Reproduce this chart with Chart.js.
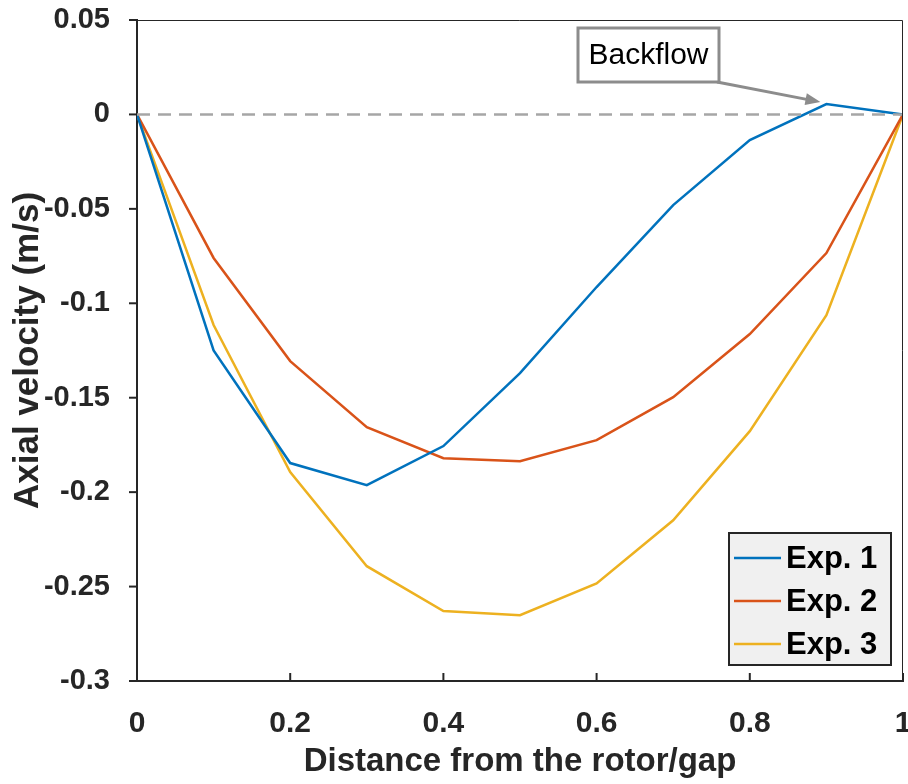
<!DOCTYPE html>
<html>
<head>
<meta charset="utf-8">
<script src="https://cdn.jsdelivr.net/npm/chart.js@4.4.1/dist/chart.umd.min.js"></script>
<style>
  html, body { margin: 0; padding: 0; background: #fff; }
  #wrap { width: 908px; height: 784px; }
</style>
</head>
<body>
<div id="wrap"><canvas id="myChart" width="908" height="784"></canvas></div>
<script>
// distance from the rotor / gap
let distance = [0, 0.1, 0.2, 0.3, 0.4, 0.5, 0.6, 0.7, 0.8, 0.9, 1];
let exp1 = [0, -0.125, -0.1846, -0.1963, -0.1756, -0.137, -0.0914, -0.048, -0.0136, 0.0055, 0];
let exp2 = [0, -0.076, -0.1306, -0.1656, -0.182, -0.1836, -0.1725, -0.1497, -0.1163, -0.0734, 0];
let exp3 = [0, -0.1115, -0.1894, -0.2392, -0.263, -0.2652, -0.2483, -0.2149, -0.1677, -0.1063, 0];
let seriesNames = ["Exp. 1", "Exp. 2", "Exp. 3"];
let xTicks = [0, 0.2, 0.4, 0.6, 0.8, 1];
let yTicks = [0.05, 0, -0.05, -0.1, -0.15, -0.2, -0.25, -0.3];
let colors = ["#0072BD", "#D95319", "#EDB120"];

function pts(ys) {
  return ys.map(function(y, i) { return { x: distance[i], y: y }; });
}

const font = "'Liberation Sans', Arial, sans-serif";

// box, ticks, legend and the backflow note
const extras = {
  id: "extras",
  afterDraw(chart) {
    const ctx = chart.ctx;
    const a = chart.chartArea;
    const xs = chart.scales.x, ys = chart.scales.y;
    ctx.save();
    // box top/right
    ctx.strokeStyle = "#262626";
    ctx.lineWidth = 1;
    ctx.beginPath();
    ctx.moveTo(a.left, a.top + 0.5);
    ctx.lineTo(a.right - 0.5, a.top + 0.5);
    ctx.lineTo(a.right - 0.5, a.bottom);
    ctx.stroke();
    // ticks
    ctx.lineWidth = 2;
    xTicks.forEach(function(v) {
      let px = xs.getPixelForValue(v);
      ctx.beginPath();
      ctx.moveTo(px, a.bottom);
      ctx.lineTo(px, a.bottom - 8);
      ctx.stroke();
    });
    yTicks.forEach(function(v) {
      let py = ys.getPixelForValue(v);
      ctx.beginPath();
      ctx.moveTo(a.left - 8, py);
      ctx.lineTo(a.left, py);
      ctx.stroke();
    });

    // legend
    let lx = 729, ly = 533, lw = 162, lh = 132;
    ctx.fillStyle = "#f0f0f0";
    ctx.fillRect(lx, ly, lw, lh);
    ctx.strokeStyle = "#262626";
    ctx.lineWidth = 2;
    ctx.strokeRect(lx, ly, lw, lh);
    ctx.font = "bold 31px " + font;
    ctx.textBaseline = "middle";
    ctx.textAlign = "left";
    seriesNames.forEach(function(name, i) {
      let yy = ly + 25 + i * 43;
      ctx.strokeStyle = colors[i];
      ctx.lineWidth = 2.5;
      ctx.beginPath();
      ctx.moveTo(lx + 5, yy);
      ctx.lineTo(lx + 52, yy);
      ctx.stroke();
      ctx.fillStyle = "#000";
      ctx.fillText(name, lx + 57, yy + 1);
    });

    // backflow note with arrow to the point at 0.9
    let tx = xs.getPixelForValue(0.9) - 6, ty = ys.getPixelForValue(exp1[9]) - 2;
    let bx = 578, by = 28, bw = 141, bh = 54;
    let sx = bx + bw - 2, sy = by + bh;
    ctx.strokeStyle = "#8c8c8c";
    ctx.lineWidth = 3;
    let ang = Math.atan2(ty - sy, tx - sx);
    ctx.beginPath();
    ctx.moveTo(sx, sy);
    ctx.lineTo(tx - 10 * Math.cos(ang), ty - 10 * Math.sin(ang));
    ctx.stroke();
    ctx.fillStyle = "#8c8c8c";
    ctx.beginPath();
    ctx.moveTo(tx, ty);
    ctx.lineTo(tx - 15 * Math.cos(ang) + 6 * Math.sin(ang), ty - 15 * Math.sin(ang) - 6 * Math.cos(ang));
    ctx.lineTo(tx - 15 * Math.cos(ang) - 6 * Math.sin(ang), ty - 15 * Math.sin(ang) + 6 * Math.cos(ang));
    ctx.closePath();
    ctx.fill();
    ctx.fillStyle = "#fff";
    ctx.fillRect(bx, by, bw, bh);
    ctx.strokeRect(bx, by, bw, bh);
    ctx.fillStyle = "#000";
    ctx.font = "30px " + font;
    ctx.textAlign = "center";
    ctx.fillText("Backflow", bx + bw / 2, by + bh / 2 + 1);
    ctx.restore();
  }
};

let ctx = document.getElementById("myChart").getContext("2d");
let chart = new Chart(ctx, {
  type: "line",
  data: {
    datasets: [
      {
        label: "zero",
        data: [{ x: 0, y: 0 }, { x: 1, y: 0 }],
        borderColor: "#a6a6a6",
        borderWidth: 2.5,
        borderDash: [13, 8],
        pointRadius: 0
      },
      {
        label: seriesNames[0],
        data: pts(exp1),
        borderColor: colors[0],
        borderWidth: 2.5,
        pointRadius: 0,
        tension: 0
      },
      {
        label: seriesNames[1],
        data: pts(exp2),
        borderColor: colors[1],
        borderWidth: 2.5,
        pointRadius: 0,
        tension: 0
      },
      {
        label: seriesNames[2],
        data: pts(exp3),
        borderColor: colors[2],
        borderWidth: 2.5,
        pointRadius: 0,
        tension: 0
      }
    ]
  },
  options: {
    responsive: false,
    animation: false,
    layout: { autoPadding: false, padding: { top: 20, right: 5, left: 0, bottom: 0 } },
    plugins: { legend: { display: false }, tooltip: { enabled: false } },
    scales: {
      x: {
        type: "linear",
        min: 0,
        max: 1,
        afterBuildTicks: function(s) { s.ticks = xTicks.map(function(v) { return { value: v }; }); },
        afterFit: function(s) {
          s.height = 103;
          s.paddingLeft = 0; s.paddingRight = 0;
        },
        grid: { display: false },
        border: { display: true, color: "#262626", width: 2 },
        ticks: {
          color: "#262626",
          padding: 17,
          maxRotation: 0,
          font: { family: font, size: 30, weight: "bold" },
          callback: function(v) { return String(parseFloat(v.toFixed(2))); }
        },
        title: {
          display: true,
          text: "Distance from the rotor/gap",
          color: "#262626",
          padding: { top: 0, bottom: 2 },
          font: { family: font, size: 33, weight: "bold" }
        }
      },
      y: {
        min: -0.3,
        max: 0.05,
        afterBuildTicks: function(s) { s.ticks = yTicks.map(function(v) { return { value: v }; }); },
        afterFit: function(s) {
          s.width = 137;
          s.paddingTop = 0; s.paddingBottom = 0;
        },
        grid: { display: false },
        border: { display: true, color: "#262626", width: 2 },
        ticks: {
          color: "#262626",
          padding: 19,
          font: { family: font, size: 29, weight: "bold" },
          callback: function(v) { return String(parseFloat(v.toFixed(2))); }
        },
        title: {
          display: true,
          text: "Axial velocity (m/s)",
          color: "#262626",
          padding: { top: 7, bottom: 0 },
          font: { family: font, size: 35, weight: "bold" }
        }
      }
    }
  },
  plugins: [extras]
});
</script>
</body>
</html>
